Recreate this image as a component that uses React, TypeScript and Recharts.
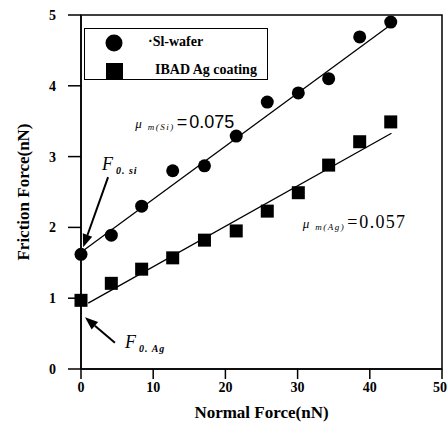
import {
  ComposedChart,
  Legend,
  Line,
  ReferenceArea,
  ReferenceDot,
  ReferenceLine,
  Scatter,
  XAxis,
  YAxis,
} from "recharts";

// normal load (nN) at each measurement
const loads = [0, 4.2, 8.4, 12.7, 17.1, 21.5, 25.8, 30.1, 34.3, 38.6, 42.9];
// friction force (nN)
const siFriction = [1.62, 1.89, 2.3, 2.8, 2.87, 3.29, 3.77, 3.9, 4.1, 4.69, 4.9];
const agFriction = [0.97, 1.21, 1.41, 1.57, 1.82, 1.95, 2.23, 2.49, 2.88, 3.21, 3.49];

// linear fits, endpoints only
const siFitX = [0, 43];
const siFitY = [1.65, 4.87];
const agFitX = [1, 43];
const agFitY = [0.93, 3.33];

const xTicks = [0, 10, 20, 30, 40, 50];
const yTicks = [0, 1, 2, 3, 4, 5];

const SERIF = "'Liberation Serif', 'Times New Roman', serif";
const SANS = "'Liberation Sans', Arial, sans-serif";

const siData = loads.map((x, i) => ({ x, y: siFriction[i] }));
const agData = loads.map((x, i) => ({ x, y: agFriction[i] }));
const siFit = siFitX.map((x, i) => ({ x, y: siFitY[i] }));
const agFit = agFitX.map((x, i) => ({ x, y: agFitY[i] }));

function Dot(props: any) {
  const { cx, cy } = props;
  return <circle cx={cx} cy={cy} r={6.5} fill="#000" />;
}

function Square(props: any) {
  const { cx, cy } = props;
  return <rect x={cx - 6.5} y={cy - 6.5} width={13} height={13} fill="#000" />;
}

// line with a filled arrowhead at (x2, y2)
function Arrow(props: any) {
  const { x1, y1, x2, y2 } = props;
  if ([x1, y1, x2, y2].some((v) => typeof v !== "number")) return null;
  const ang = Math.atan2(y2 - y1, x2 - x1);
  const len = 13;
  const w = 5;
  const bx = x2 - len * Math.cos(ang);
  const by = y2 - len * Math.sin(ang);
  const px = -Math.sin(ang) * w;
  const py = Math.cos(ang) * w;
  return (
    <g>
      <line x1={x1} y1={y1} x2={bx} y2={by} stroke="#000" strokeWidth={2} />
      <polygon
        points={`${x2},${y2} ${bx + px},${by + py} ${bx - px},${by - py}`}
        fill="#000"
      />
    </g>
  );
}

function MuLabel({ sub, value, font, spacing }: { sub: string; value: string; font: string; spacing: number }) {
  return (props: any) => {
    const { cx, cy } = props;
    return (
      <text x={cx} y={cy} fontFamily={SERIF} fill="#000">
        <tspan fontStyle="italic" fontSize={13}>μ</tspan>
        <tspan fontStyle="italic" fontSize={9} dx={6} dy={2} letterSpacing={1.5}>{sub}</tspan>
        <tspan fontFamily={font} fontSize={18} dx={2} dy={-2}>=</tspan>
        <tspan fontFamily={font} fontSize={18} dx={2} letterSpacing={spacing}>{value}</tspan>
      </text>
    );
  };
}

function FLabel({ sub }: { sub: string }) {
  return (props: any) => {
    const { cx, cy } = props;
    return (
      <text x={cx} y={cy} fontFamily={SERIF} fill="#000" fontStyle="italic">
        <tspan fontSize={18}>F</tspan>
        <tspan fontSize={10} fontWeight="bold" dx={3} dy={4} letterSpacing={1}>{sub}</tspan>
      </text>
    );
  };
}

function LegendBox() {
  return (
    <div
      style={{
        width: 184,
        height: 52,
        border: "1.5px solid #000",
        background: "#fff",
        fontFamily: SERIF,
        fontWeight: "bold",
        fontSize: 14,
        color: "#000",
        boxSizing: "border-box",
        position: "relative",
      }}
    >
      <svg width={30} height={52} style={{ position: "absolute", left: 14, top: 0 }}>
        <circle cx={15} cy={14} r={8.5} fill="#000" />
        <rect x={7} y={34} width={17} height={16} fill="#000" />
      </svg>
      <span style={{ position: "absolute", left: 63, top: 5 }}>·Sl-wafer</span>
      <span style={{ position: "absolute", left: 70, top: 33 }}>IBAD Ag coating</span>
    </div>
  );
}

export default function App() {
  const tickStyle = { fill: "#000", fontSize: 14, fontWeight: "bold", fontFamily: SERIF };
  return (
    <div style={{ position: "absolute", left: 0, top: 0, background: "#fff" }}>
      <ComposedChart
        width={447}
        height={423}
        margin={{ top: 15, right: 5, bottom: 0, left: 0 }}
      >
        <XAxis
          dataKey="x"
          type="number"
          domain={[0, 50]}
          ticks={xTicks}
          tickSize={10}
          tickMargin={3}
          axisLine={{ stroke: "#000", strokeWidth: 1.5 }}
          tickLine={{ stroke: "#000", strokeWidth: 1.5 }}
          tick={tickStyle}
          height={54}
          label={{
            value: "Normal Force(nN)",
            position: "insideBottom",
            offset: 5,
            style: { fontFamily: SERIF, fontWeight: "bold", fontSize: 17, fill: "#000" },
          }}
        />
        <YAxis
          dataKey="y"
          type="number"
          domain={[0, 5]}
          ticks={yTicks}
          tickSize={13}
          tickMargin={12}
          axisLine={{ stroke: "#000", strokeWidth: 1.5 }}
          tickLine={{ stroke: "#000", strokeWidth: 1.5 }}
          tick={tickStyle}
          width={81}
          label={{
            value: "Friction Force(nN)",
            angle: -90,
            position: "insideLeft",
            offset: 23,
            style: {
              textAnchor: "middle",
              fontFamily: SERIF,
              fontWeight: "bold",
              fontSize: 17,
              fill: "#000",
            },
          }}
        />
        <ReferenceArea
          x1={0}
          x2={50}
          y1={0}
          y2={5}
          fill="none"
          stroke="#000"
          strokeWidth={1.5}
          ifOverflow="visible"
        />
        <Legend
          layout="horizontal"
          verticalAlign="middle"
          align="center"
          content={() => <LegendBox />}
          wrapperStyle={{ position: "absolute", left: 84, top: 28, width: 184, height: 52 }}
        />
        <Line
          data={siFit}
          dataKey="y"
          type="linear"
          stroke="#000"
          strokeWidth={1.3}
          dot={false}
          activeDot={false}
          legendType="none"
          isAnimationActive={false}
        />
        <Line
          data={agFit}
          dataKey="y"
          type="linear"
          stroke="#000"
          strokeWidth={1.3}
          dot={false}
          activeDot={false}
          legendType="none"
          isAnimationActive={false}
        />
        <Scatter data={siData} dataKey="y" name="Si-wafer" shape={Dot} isAnimationActive={false} />
        <Scatter data={agData} dataKey="y" name="IBAD Ag coating" shape={Square} isAnimationActive={false} />
        <ReferenceLine
          segment={[{ x: 3.75, y: 2.71 }, { x: 0.3, y: 1.72 }]}
          shape={Arrow}
          ifOverflow="visible"
        />
        <ReferenceLine
          segment={[{ x: 4.7, y: 0.37 }, { x: 0.55, y: 0.73 }]}
          shape={Arrow}
          ifOverflow="visible"
        />
        <ReferenceDot
          x={7.5}
          y={3.4}
          shape={MuLabel({ sub: "m(Si)", value: "0.075", font: SANS, spacing: 0 })}
          ifOverflow="visible"
        />
        <ReferenceDot
          x={30.7}
          y={1.99}
          shape={MuLabel({ sub: "m(Ag)", value: "0.057", font: SERIF, spacing: 1.3 })}
          ifOverflow="visible"
        />
        <ReferenceDot x={2.9} y={2.81} shape={FLabel({ sub: "0. si" })} ifOverflow="visible" />
        <ReferenceDot x={6.1} y={0.3} shape={FLabel({ sub: "0. Ag" })} ifOverflow="visible" />
      </ComposedChart>
    </div>
  );
}
